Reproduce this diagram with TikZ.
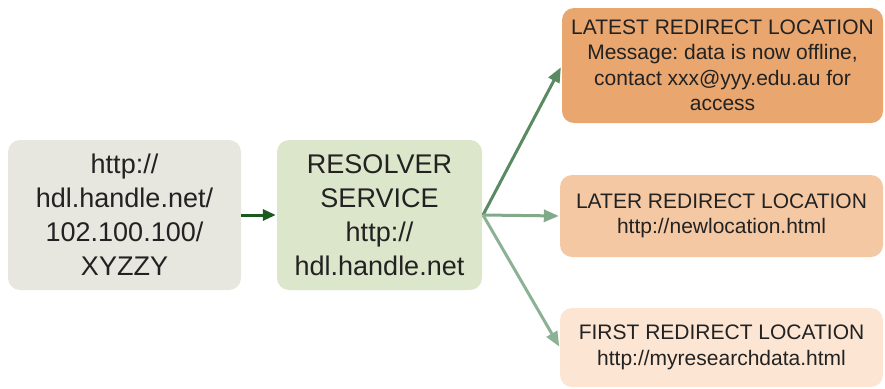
\documentclass[tikz,border=0pt]{standalone}
\usepackage{fontspec}
\setmainfont{Liberation Sans}
\usetikzlibrary{arrows.meta}
\frenchspacing
\definecolor{grayfill}{HTML}{E7E7DF}
\definecolor{greenfill}{HTML}{DCE6CA}
\definecolor{org1}{HTML}{E9A66E}
\definecolor{org2}{HTML}{F5C8A4}
\definecolor{org3}{HTML}{FCE5D3}
\definecolor{txt}{HTML}{222222}
\definecolor{arrA}{HTML}{1B5A1E}
\definecolor{arrB}{HTML}{5A8A62}
\definecolor{arrC}{HTML}{83A98B}
\definecolor{arrD}{HTML}{8CB195}
\tikzset{
  box/.style={rectangle, rounded corners=12pt, draw=none, align=center, text=txt, inner sep=0pt},
  bigtext/.style={font=\fontsize{27}{34}\selectfont},
  smalltext/.style={font=\fontsize{21}{25.5}\selectfont},
  conn/.style={line width=3pt, -{Triangle[length=15pt,width=12pt]}},
}
\begin{document}
\begin{tikzpicture}[x=1pt,y=-1pt]
\useasboundingbox (0,0) rectangle (885,388);
\node[box, bigtext, fill=grayfill, minimum width=233pt, minimum height=150pt] (src) at (124.5,215) {http://\\hdl.handle.net/\\102.100.100/\\XYZZY};
\node[box, bigtext, fill=greenfill, minimum width=205pt, minimum height=150pt] (res) at (379.5,215) {RESOLVER\\SERVICE\\http://\\hdl.handle.net};
\node[box, smalltext, fill=org1, minimum width=321pt, minimum height=115pt] (latest) at (722.5,65.5) {LATEST REDIRECT LOCATION\\Message: data is now offline,\\contact xxx@yyy.edu.au for\\access};
\node[box, smalltext, fill=org2, minimum width=323pt, minimum height=82pt] (later) at (721.5,216) {LATER REDIRECT LOCATION\\http://newlocation.html};
\node[box, smalltext, fill=org3, minimum width=323pt, minimum height=79pt] (first) at (721.5,347.5) {FIRST REDIRECT LOCATION\\http://myresearchdata.html};
\coordinate (hub) at (483,215);
\draw[arrA, line width=3pt, -{Triangle[length=13pt,width=11pt]}, shorten >=1pt] (src.east) -- (res.west);
\draw[conn, arrB, shorten >=2pt] (hub) -- (latest.west);
\draw[conn, arrC, shorten >=1pt] (hub) -- (later.west);
\draw[conn, arrD, shorten >=1pt] (hub) -- (first.west);
\end{tikzpicture}
\end{document}
